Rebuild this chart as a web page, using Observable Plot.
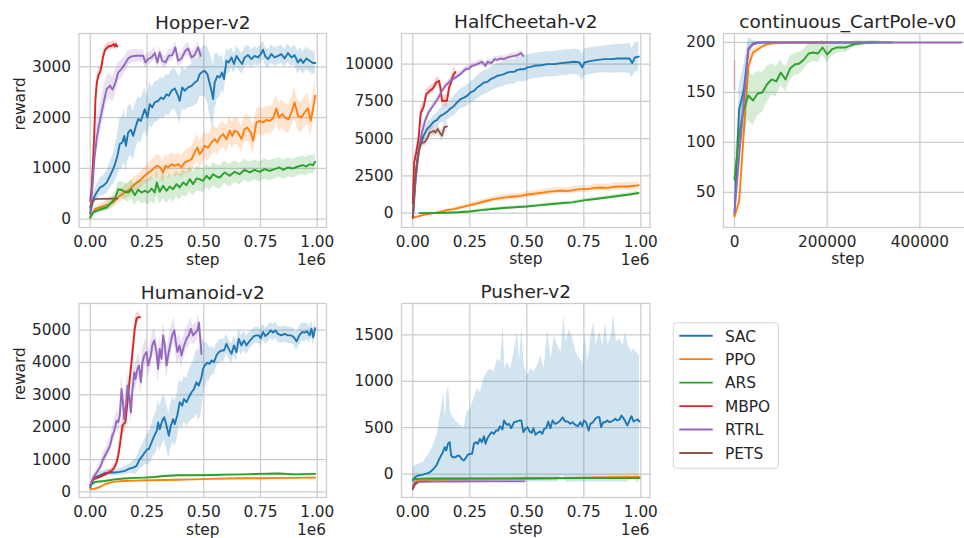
<!DOCTYPE html>
<html><head><meta charset="utf-8">
<script src="https://cdn.jsdelivr.net/npm/d3@7"></script>
<script src="https://cdn.jsdelivr.net/npm/@observablehq/plot@0.6"></script>
<style>
html,body{margin:0;padding:0;background:#fff;}
#fig{position:relative;width:964px;height:538px;overflow:hidden;background:#fff;font-family:"DejaVu Sans",sans-serif;}
#fig svg{position:absolute;}
</style></head><body><div id="fig"></div>
<script>
// ---------- legend / series ----------
const algos = ["SAC","PPO","ARS","MBPO","RTRL","PETS"];
const algoColors = ["#1f77b4","#ff7f0e","#2ca02c","#d62728","#9467bd","#8c564b"];

// ---------- Hopper-v2 (steps in units of 1e6) ----------
const hopperSacStep = [0,.013,.028,.043,.057,.072,.087,.101,.109,.120,.130,.141,.150,.157,.167,.179,.189,.199,.211,.223,.233,.240,.252,.262,.273,.284,.299,.311,.323,.336,.346,.358,.372,.384,.394,.405,.416,.431,.446,.460,.472,.482,.493,.504,.516,.525,.534,.541,.548,.560,.570,.581,.589,.600,.610,.622,.633,.644,.658,.669,.680,.695,.710,.724,.739,.751,.761,.771,.783,.798,.812,.827,.842,.856,.871,.886,.900,.915,.927,.938,.952,.966,.981,.991];
const hopperSacMean = [100,395,525,625,655,720,855,985,1085,1250,1480,1510,1640,1445,1710,1760,1640,1805,1970,1935,2070,2165,2000,2265,2200,2300,2330,2395,2365,2460,2430,2530,2575,2460,2330,2595,2530,2595,2625,2690,2725,2855,2900,2920,2855,2690,2530,2365,2690,2820,2790,2890,2760,3120,3085,3185,3055,3215,3120,3055,3185,3230,3150,3215,3185,3250,3335,3205,3150,3250,3185,3215,3250,3165,3270,3185,3230,3085,3150,3075,3165,3120,3075,3075];
const hopperSacBand = [40,120,150,180,200,220,250,300,350,400,500,500,520,520,520,500,480,460,440,430,420,420,420,420,400,400,400,400,400,400,400,400,400,420,450,420,400,400,420,450,450,450,480,500,550,600,650,650,550,450,400,350,300,250,220,200,200,200,200,200,200,200,180,180,180,180,180,180,180,180,180,180,180,180,180,180,200,220,220,220,220,220,220,220];
const hopperPpoStep = [0,.021,.042,.064,.086,.108,.130,.152,.174,.196,.218,.240,.258,.277,.292,.306,.321,.331,.343,.358,.372,.387,.402,.416,.431,.446,.460,.472,.482,.493,.504,.519,.534,.548,.560,.570,.585,.600,.614,.626,.636,.651,.666,.680,.692,.707,.717,.732,.746,.761,.776,.790,.805,.820,.831,.845,.859,.874,.889,.900,.915,.930,.944,.959,.971,.981,.991];
const hopperPpoMean = [30,200,230,260,295,360,460,525,590,690,755,855,920,985,1050,1035,920,1050,1020,1085,1050,1085,1020,1115,1150,1180,1315,1410,1280,1345,1445,1410,1510,1575,1510,1610,1675,1575,1740,1640,1740,1710,1575,1775,1805,1710,1545,1905,1935,1905,1955,1935,1985,2180,2000,2070,2000,1970,2135,2300,2035,2000,2100,2180,1935,2165,2430];
const hopperPpoBand = [20,60,80,90,100,110,120,130,140,150,160,170,180,200,220,220,220,220,220,220,220,220,220,230,240,250,260,260,260,260,260,260,260,260,260,260,260,260,260,260,260,260,260,260,260,270,270,270,270,270,270,270,270,280,280,280,280,280,290,300,300,300,300,300,300,300,300];
const hopperArsStep = [0,.013,.028,.050,.072,.094,.111,.123,.138,.152,.167,.182,.196,.211,.226,.240,.255,.270,.284,.293,.306,.321,.336,.350,.365,.380,.394,.409,.424,.438,.453,.468,.482,.497,.512,.526,.541,.556,.570,.592,.614,.636,.658,.680,.702,.724,.746,.768,.790,.812,.834,.849,.871,.893,.915,.937,.952,.966,.981,.991];
const hopperArsMean = [30,130,165,200,230,330,425,590,578,540,525,590,473,578,525,558,525,604,525,722,540,657,558,643,590,690,624,722,670,788,690,800,788,755,855,788,886,840,820,920,855,932,886,972,920,972,932,985,952,985,1018,972,1018,998,1037,1064,1037,1083,1064,1129];
const hopperArsBand = [10,30,50,60,80,100,120,150,160,170,180,190,200,210,220,230,240,250,250,250,250,250,250,250,250,250,250,250,250,250,240,240,240,240,230,230,230,230,230,220,220,220,210,210,200,200,200,200,200,200,190,190,190,180,180,180,180,180,180,180];
const hopperMbpoStep = [0,.006,.012,.018,.023,.029,.038,.044,.050,.056,.065,.079,.094,.103,.109,.113,.119];
const hopperMbpoMean = [360,590,1115,1710,2360,2690,2860,2900,3020,3185,3335,3400,3414,3447,3400,3447,3400];
const hopperMbpoBand = [60,100,150,200,200,150,120,100,100,100,80,80,80,80,80,80,80];
const hopperRtrlStep = [0,.009,.018,.028,.038,.050,.062,.072,.087,.098,.111,.123,.138,.152,.167,.182,.199,.217,.233,.243,.255,.270,.284,.296,.306,.317,.331,.346,.361,.375,.387,.402,.419,.431,.446,.460,.475,.487];
const hopperRtrlMean = [150,590,1180,1575,1840,2100,2360,2560,2630,2550,2690,2890,2955,3050,3165,3205,3217,3217,3217,3086,3152,3185,3270,3086,3283,3119,3086,3217,3230,3381,3119,3165,3316,3362,3185,3230,3381,3217];
const hopperRtrlBand = [50,150,250,300,300,300,280,250,250,250,250,200,180,160,150,130,120,120,120,120,120,120,120,120,120,120,120,120,120,120,120,120,120,120,120,120,120,120];
const hopperPetsStep = [0,.01,.02,.04,.06,.08,.10,.12];
const hopperPetsMean = [240,340,395,400,400,402,405,405];
const hopperPetsBand = [20,20,15,10,10,10,10,10];

// ---------- HalfCheetah-v2 ----------
const cheetahSacStep = [0,.006,.012,.018,.025,.032,.047,.062,.076,.091,.106,.121,.135,.150,.165,.179,.194,.209,.224,.238,.253,.268,.282,.297,.312,.326,.341,.356,.371,.385,.400,.415,.429,.444,.459,.474,.488,.503,.518,.532,.562,.591,.621,.650,.679,.709,.731,.743,.753,.782,.812,.841,.871,.900,.929,.951,.962,.974,.991];
const cheetahSacMean = [-300,940,2280,3400,4180,4520,5190,5640,5860,6130,6260,6530,6640,6800,7020,7160,7430,7650,7760,7870,8100,8210,8430,8590,8770,8810,8990,9100,9220,9260,9330,9440,9480,9480,9620,9660,9660,9780,9820,9890,9930,10000,10000,10070,10110,10160,10110,9780,10110,10220,10290,10340,10340,10380,10380,10380,10070,10450,10510];
const cheetahSacBand = [30,200,300,350,380,400,400,400,400,420,450,500,550,600,620,640,650,660,680,700,720,740,760,780,800,800,800,820,820,820,820,820,820,820,820,820,850,850,850,850,850,850,850,850,850,850,850,900,900,900,900,900,950,950,950,1000,1000,1000,1000];
const cheetahPpoStep = [0,.032,.062,.091,.121,.150,.179,.209,.238,.268,.297,.326,.356,.385,.415,.444,.474,.503,.532,.562,.591,.621,.650,.679,.709,.738,.768,.797,.826,.856,.885,.915,.944,.974,.991];
const cheetahPpoMean = [-310,-180,-70,0,90,200,270,380,490,600,715,830,940,1005,1075,1120,1160,1250,1300,1365,1430,1475,1520,1475,1565,1610,1610,1700,1720,1700,1770,1790,1790,1835,1880];
const cheetahPpoBand = [20,30,40,50,60,80,100,120,140,150,160,170,180,190,200,200,200,200,200,210,210,210,220,220,220,230,230,230,240,240,250,250,250,260,260];
const cheetahArsStep = [.03,.1,.15,.2,.25,.3,.35,.4,.45,.5,.55,.6,.65,.7,.75,.8,.85,.9,.95,.99];
const cheetahArsMean = [0,10,30,60,110,200,280,350,400,445,520,600,660,720,860,950,1050,1150,1250,1350];
const cheetahArsBand = [20,30,50,60,80,90,100,100,100,100,100,100,100,100,100,110,110,120,120,130];
const cheetahMbpoStep = [0,.006,.015,.025,.035,.047,.059,.074,.088,.103,.115,.121,.128,.140,.150,.159,.168,.176,.187];
const cheetahMbpoMean = [650,3400,4070,4970,6760,7090,7990,8210,8370,8770,8880,8430,7540,7540,7540,8430,8770,9220,9480];
const cheetahMbpoBand = [100,400,400,400,400,350,300,300,300,300,300,400,400,400,400,400,400,400,400];
const cheetahRtrlStep = [0,.010,.021,.029,.040,.054,.069,.084,.099,.113,.128,.143,.165,.187,.209,.231,.246,.260,.282,.304,.319,.329,.344,.359,.371,.385,.400,.415,.429,.444,.459,.474,.485];
const cheetahRtrlMean = [-300,1830,3400,4520,5410,6200,6760,7090,7430,7760,8210,8550,8880,9100,9330,9660,9710,9890,10000,10160,9890,10160,10070,10340,10290,10380,10340,10450,10510,10560,10600,10740,10560];
const cheetahRtrlBand = [30,300,300,300,250,220,200,200,200,200,200,200,200,200,200,200,200,200,200,200,200,200,200,200,200,200,200,200,200,200,200,200,200];
const cheetahPetsStep = [0,.010,.021,.032,.040,.050,.062,.074,.084,.091,.099,.109,.118,.128,.138,.150];
const cheetahPetsMean = [-300,2280,3620,4520,4740,4740,4970,5410,5460,5530,5410,5640,5410,5190,5750,5820];
const cheetahPetsBand = [30,300,300,300,300,300,300,300,300,300,300,300,300,350,350,350];

// ---------- continuous_CartPole-v0 (steps) ----------
const cartSacStep = [0,10000,20000,30000,40000,50000,100000,200000,300000];
const cartSacMean = [27,133,152,193,199,200,200,200,200];
const cartSacBand = [3,25,25,12,3,1,0,0,0];
const cartPpoStep = [0,10000,20000,30000,40000,50000,60000,70000,80000,100000,150000,200000];
const cartPpoMean = [26,41,109,176,190,193,196,198,199,199.7,200,200];
const cartPpoBand = [2,5,10,8,4,3,2,1,1,0.5,0,0];
const cartArsStep = [0,10000,20000,30000,40000,50000,60000,70000,80000,90000,100000,110000,120000,130000,140000,150000,160000,170000,180000,190000,200000,210000,220000,230000,240000,250000,260000,270000,280000,290000,300000,310000,320000,330000,340000];
const cartArsMean = [63,107,133,147,142,149,150,158,163,161,170,163,174,178,179,183,189,190,189,195,188,193,195,195,195,197,198.5,199,199.5,200,200,200,200,200,200];
const cartArsBand = [15,22,25,25,25,22,20,18,16,15,13,12,12,11,11,10,10,9,9,8,8,7,6,5,5,4,3,3,2,2,2,2,1,1,1];
const cartMbpoStep = [0];
const cartMbpoLow = [152];
const cartMbpoHigh = [182];
const cartRtrlStep = [0,10000,20000,30000,40000,50000,60000,100000,200000,300000,400000,490000];
const cartRtrlMean = [30,86,140,194,198,199.5,200,200,200,200,200,200];
const cartRtrlBand = [3,15,15,5,2,1,0,0,0,0,0,0];

// ---------- Humanoid-v2 (steps in units of 1e6) ----------
const humanSacStep = [0,.013,.028,.043,.065,.087,.108,.130,.152,.174,.189,.204,.218,.230,.240,.251,.258,.270,.282,.293,.299,.306,.317,.326,.336,.346,.355,.365,.372,.383,.394,.405,.413,.424,.434,.446,.457,.468,.478,.490,.497,.504,.516,.526,.534,.545,.556,.566,.578,.589,.600,.610,.622,.633,.644,.654,.666,.677,.688,.698,.710,.721,.732,.742,.751,.761,.771,.783,.795,.805,.815,.827,.842,.856,.871,.886,.897,.909,.921,.933,.944,.956,.966,.974,.982,.991];
const humanSacMean = [135,390,475,515,580,600,600,620,650,725,755,805,1010,1115,1220,1320,1320,1530,1735,1890,2150,1940,2200,2305,2045,1735,2045,2250,2095,2355,2770,2665,2870,2770,2925,3080,3180,3390,3285,3545,3800,3905,3990,3955,4060,4010,4215,4320,4370,4370,4575,4420,4265,4525,4320,4730,4525,4680,4525,4630,4730,4815,4835,4835,4750,4940,4815,4885,4990,4920,4990,4885,4835,4885,4835,4835,4780,4650,4835,4940,4920,4960,4835,5040,4780,5060];
const humanSacBand = [30,80,100,100,100,100,100,100,120,150,200,250,300,350,400,450,500,550,600,650,700,700,700,700,700,700,700,700,700,700,700,700,700,750,800,850,900,1000,1100,1100,900,700,600,500,450,400,350,350,350,350,300,300,300,300,300,300,300,300,280,280,250,250,250,250,250,250,250,250,250,250,250,250,250,250,250,250,250,280,280,280,280,250,250,250,250,250];
const humanPpoStep = [0,.021,.043,.065,.087,.108,.152,.196,.240,.314,.387,.460,.534,.607,.680,.754,.827,.900,.991];
const humanPpoMean = [85,105,155,240,290,320,340,350,360,370,380,390,405,415,425,425,435,435,445];
const humanPpoBand = [15,15,15,15,15,15,15,15,15,15,15,15,15,15,15,15,15,15,15];
const humanArsStep = [0,.021,.065,.108,.152,.196,.240,.284,.328,.387,.460,.534,.607,.680,.754,.827,.900,.991];
const humanArsMean = [205,310,340,390,415,435,445,465,495,515,515,525,535,545,560,570,545,560];
const humanArsBand = [25,25,25,25,25,25,25,25,25,25,25,25,25,25,25,25,25,25];
const humanMbpoStep = [0,.013,.035,.057,.079,.094,.106,.116,.123,.130,.138,.142,.150,.155,.161,.167,.174,.182,.189,.196,.204,.211,.220];
const humanMbpoMean = [205,390,445,515,600,650,755,910,1115,1425,1840,2045,2130,2150,2560,2975,3490,4010,4525,5040,5350,5400,5400];
const humanMbpoBand = [30,50,60,60,80,100,120,150,200,250,300,300,300,300,300,300,300,300,250,250,200,150,100];
const humanRtrlStep = [0,.013,.028,.043,.057,.072,.087,.097,.106,.116,.123,.130,.138,.144,.150,.157,.164,.172,.179,.185,.194,.199,.208,.215,.223,.230,.238,.248,.255,.267,.273,.282,.292,.299,.306,.314,.321,.328,.336,.343,.350,.361,.370,.378,.384,.393,.402,.409,.416,.424,.434,.443,.453,.463,.472,.479,.490];
const humanRtrlMean = [185,445,600,755,1010,1220,1425,1735,1890,2200,2150,2355,3180,2770,2250,2665,3285,2975,2460,3080,3700,3490,3800,3905,3390,4010,4215,4320,3905,4215,4525,4680,4320,3800,4420,4110,4835,4575,3905,4215,4470,4835,4990,4575,4320,4525,4215,4420,4575,4730,4835,5040,4835,4920,4990,5230,4265];
const humanRtrlBand = [30,80,100,150,200,200,250,250,300,300,300,350,400,400,400,400,400,400,400,400,400,400,400,400,400,400,400,400,400,400,400,400,400,500,400,400,400,400,400,400,400,400,400,400,400,400,400,350,350,350,350,350,300,300,300,300,300];

// ---------- Pusher-v2 (steps in units of 1e6) ----------
const pusherSacStep = [0,.010,.025,.040,.054,.069,.079,.091,.103,.113,.124,.132,.140,.147,.154,.162,.168,.176,.187,.197,.206,.213,.224,.232,.241,.250,.260,.268,.276,.285,.294,.303,.312,.319,.326,.337,.346,.356,.365,.374,.382,.393,.400,.412,.422,.432,.444,.456,.466,.476,.485,.494,.503,.512,.521,.529,.538,.547,.559,.568,.576,.585,.594,.603,.613,.624,.635,.647,.657,.668,.679,.691,.701,.712,.724,.734,.743,.750,.760,.771,.779,.790,.800,.809,.818,.826,.835,.844,.853,.862,.871,.879,.888,.897,.907,.915,.924,.932,.941,.950,.959,.968,.976,.985,.994];
const pusherSacMean = [-68,-32,-14,-7,4,14,29,57,93,147,201,237,291,255,327,345,201,183,183,201,194,165,147,172,208,219,219,327,345,327,381,345,409,327,381,424,452,434,470,470,517,481,578,531,542,495,560,567,578,578,452,488,506,460,445,495,424,445,460,434,488,495,567,495,578,542,553,578,614,567,567,542,560,531,517,560,517,578,560,470,542,560,596,614,614,506,560,560,578,560,567,578,596,578,589,632,603,567,524,578,625,567,578,589,567];
const pusherSacBandStep = [0,.010,.047,.084,.106,.118,.128,.135,.143,.150,.157,.165,.179,.194,.209,.224,.238,.253,.268,.282,.297,.312,.326,.341,.356,.371,.385,.396,.404,.415,.429,.444,.459,.468,.478,.488,.503,.518,.532,.547,.562,.576,.591,.606,.621,.635,.650,.662,.672,.687,.701,.716,.731,.746,.756,.768,.782,.794,.804,.819,.834,.846,.856,.871,.881,.893,.907,.922,.932,.944,.959,.969,.981,.994];
const pusherSacBandLow = [-110,-95,-85,-85,-85,-85,-85,-85,-85,-85,-85,-85,-85,-85,-85,-85,-85,-85,-85,-85,-85,-85,-85,-85,-85,-85,-85,-85,-85,-85,-85,-85,-85,-85,-85,-85,-85,-85,-85,-85,-85,-85,-85,-85,-85,-85,-20,-20,-85,-85,-85,-85,-85,-85,-85,-85,-85,-85,-85,-85,-85,-85,-85,-85,-85,-85,-85,-85,-85,-85,-20,-20,-85,-85];
const pusherSacBandHigh = [60,93,129,273,416,596,740,865,614,883,937,668,596,560,524,488,668,704,811,919,883,1027,1099,1134,1099,1242,1206,1601,1134,1206,1134,1314,1529,1206,1565,1170,1063,1134,1099,1170,1278,1134,1565,1242,1493,1386,1314,1709,1422,1565,1458,1314,1242,1206,1529,1206,1493,1637,1386,1529,1386,1637,1386,1493,1727,1422,1458,1386,1529,1386,1314,1350,1314,1278];
const pusherPpoStep = [0,.005,.01,.02,.04,.07,.1,.2,.3,.4,.5,.6,.7,.8,.9,.994];
const pusherPpoMean = [-140,-100,-80,-70,-65,-62,-60,-57,-55,-52,-50,-45,-40,-35,-32,-30];
const pusherPpoBand = [10,10,10,8,8,8,8,8,8,8,8,8,8,8,10,10];
const pusherArsStep = [0,.05,.1,.2,.3,.4,.5,.6,.7,.8,.9,.994];
const pusherArsMean = [-55,-48,-47,-46,-45,-45,-44,-44,-43,-43,-42,-42];
const pusherArsBand = [6,6,6,6,6,6,6,6,6,6,6,6];
const pusherMbpoStep = [0,.005,.01,.015];
const pusherMbpoMean = [-160,-125,-105,-95];
const pusherMbpoBand = [15,10,8,8];
const pusherRtrlStep = [0,.005,.01,.02,.05,.1,.2,.3,.4,.49];
const pusherRtrlMean = [-150,-110,-95,-85,-82,-80,-79,-78,-78,-77];
const pusherRtrlBand = [15,10,8,6,5,5,5,5,5,5];
const pusherPetsStep = [0,.005,.01,.015,.02];
const pusherPetsMean = [-155,-130,-110,-100,-95];
const pusherPetsBand = [15,12,10,8,8];

// ---------- tick labels ----------
const millionTicks = [0,0.25,0.5,0.75,1];
const cartTicks = [0,200000,400000];
const hopperYTicks = [0,1000,2000,3000];
const cheetahYTicks = [0,2500,5000,7500,10000];
const cartYTicks = [50,100,150,200];
const humanYTicks = [0,1000,2000,3000,4000,5000];
const pusherYTicks = [0,500,1000,1500];

// ---------- helpers ----------
function check(name, a, b) { if (a.length !== b.length) throw new Error(name + " length mismatch " + a.length + " vs " + b.length); }
function S(name, algo, step, mean, band) {
  check(name + " mean", step, mean); check(name + " band", step, band);
  const rows = step.map((s, i) => ({step: s, mean: mean[i], lo: mean[i] - band[i], hi: mean[i] + band[i]}));
  return {algo, line: rows, band: rows};
}
function S2(name, algo, step, mean, bStep, bLo, bHi) {
  check(name + " mean", step, mean); check(name + " lo", bStep, bLo); check(name + " hi", bStep, bHi);
  return {algo, line: step.map((s, i) => ({step: s, mean: mean[i]})), band: bStep.map((s, i) => ({step: s, lo: bLo[i], hi: bHi[i]}))};
}

const FONT = "DejaVu Sans";
const TXT = "#262626";
const GRID = "#cccccc";
const fmt2 = d3.format(".2f");

const panels = [
  {title: "Hopper-v2", fl: 78.5, fr: 326, ft: 33, fb: 227, ml: 78.5, xDomain: [-0.0496, 1.0406], xTicks: millionTicks, xFmt: fmt2,
   yDomain: [-164, 3656], yTicks: hopperYTicks, ylab: true, off: "1e6",
   series: [S("hSAC","SAC",hopperSacStep,hopperSacMean,hopperSacBand), S("hPPO","PPO",hopperPpoStep,hopperPpoMean,hopperPpoBand),
            S("hARS","ARS",hopperArsStep,hopperArsMean,hopperArsBand), S("hMBPO","MBPO",hopperMbpoStep,hopperMbpoMean,hopperMbpoBand),
            S("hRTRL","RTRL",hopperRtrlStep,hopperRtrlMean,hopperRtrlBand), S("hPETS","PETS",hopperPetsStep,hopperPetsMean,hopperPetsBand)]},
  {title: "HalfCheetah-v2", fl: 400.7, fr: 649.3, ft: 33, fb: 227, ml: 72, xDomain: [-0.0496, 1.0406], xTicks: millionTicks, xFmt: fmt2,
   yDomain: [-962, 12058], yTicks: cheetahYTicks, ylab: false, off: "1e6",
   series: [S("cSAC","SAC",cheetahSacStep,cheetahSacMean,cheetahSacBand), S("cPPO","PPO",cheetahPpoStep,cheetahPpoMean,cheetahPpoBand),
            S("cARS","ARS",cheetahArsStep,cheetahArsMean,cheetahArsBand), S("cMBPO","MBPO",cheetahMbpoStep,cheetahMbpoMean,cheetahMbpoBand),
            S("cRTRL","RTRL",cheetahRtrlStep,cheetahRtrlMean,cheetahRtrlBand), S("cPETS","PETS",cheetahPetsStep,cheetahPetsMean,cheetahPetsBand)]},
  {title: "continuous_CartPole-v0", fl: 723, fr: 971.6, ft: 33, fb: 227, ml: 66, xDomain: [-23700, 512600], xTicks: cartTicks, xFmt: d => String(d),
   yDomain: [15, 209], yTicks: cartYTicks, ylab: false, off: null,
   series: [S("kSAC","SAC",cartSacStep,cartSacMean,cartSacBand), S("kPPO","PPO",cartPpoStep,cartPpoMean,cartPpoBand),
            S("kARS","ARS",cartArsStep,cartArsMean,cartArsBand), S("kRTRL","RTRL",cartRtrlStep,cartRtrlMean,cartRtrlBand)],
   extra: () => [Plot.ruleX(cartMbpoStep.map((s, i) => ({step: s, lo: cartMbpoLow[i], hi: cartMbpoHigh[i]})), {x: "step", y1: "lo", y2: "hi", stroke: algoColors[3], strokeOpacity: 0.25, strokeWidth: 1.5, clip: true})]},
  {title: "Humanoid-v2", fl: 78.5, fr: 326, ft: 303.3, fb: 497.3, ml: 78.5, xDomain: [-0.0496, 1.0406], xTicks: millionTicks, xFmt: fmt2,
   yDomain: [-170, 5820], yTicks: humanYTicks, ylab: true, off: "1e6",
   series: [S("uSAC","SAC",humanSacStep,humanSacMean,humanSacBand), S("uPPO","PPO",humanPpoStep,humanPpoMean,humanPpoBand),
            S("uARS","ARS",humanArsStep,humanArsMean,humanArsBand), S("uMBPO","MBPO",humanMbpoStep,humanMbpoMean,humanMbpoBand),
            S("uRTRL","RTRL",humanRtrlStep,humanRtrlMean,humanRtrlBand)]},
  {title: "Pusher-v2", fl: 400.7, fr: 649.3, ft: 303.3, fb: 497.3, ml: 72, xDomain: [-0.0496, 1.0406], xTicks: millionTicks, xFmt: fmt2,
   yDomain: [-251, 1838], yTicks: pusherYTicks, ylab: false, off: "1e6",
   series: [S2("pSAC","SAC",pusherSacStep,pusherSacMean,pusherSacBandStep,pusherSacBandLow,pusherSacBandHigh),
            S("pPPO","PPO",pusherPpoStep,pusherPpoMean,pusherPpoBand), S("pARS","ARS",pusherArsStep,pusherArsMean,pusherArsBand),
            S("pMBPO","MBPO",pusherMbpoStep,pusherMbpoMean,pusherMbpoBand), S("pRTRL","RTRL",pusherRtrlStep,pusherRtrlMean,pusherRtrlBand),
            S("pPETS","PETS",pusherPetsStep,pusherPetsMean,pusherPetsBand)]}
];

const fig = document.getElementById("fig");

function makePanel(p) {
  const mt = 33, mb = 42, mr = 6;
  const fw = p.fr - p.fl, fh = p.fb - p.ft;
  const W = p.ml + fw + mr, H = mt + fh + mb;
  const marks = [
    Plot.gridX(p.xTicks, {stroke: GRID, strokeOpacity: 1, strokeWidth: 1.25}),
    Plot.gridY(p.yTicks, {stroke: GRID, strokeOpacity: 1, strokeWidth: 1.25})
  ];
  for (const s of p.series) {
    const color = algoColors[algos.indexOf(s.algo)];
    marks.push(Plot.areaY(s.band, {x: "step", y1: "lo", y2: "hi", fill: color, fillOpacity: 0.2, clip: true}));
    marks.push(Plot.lineY(s.line, {x: "step", y: "mean", stroke: color, strokeWidth: 1.9, clip: true}));
  }
  if (p.extra) marks.push(...p.extra());
  marks.push(Plot.frame({stroke: GRID, strokeWidth: 1.25}));
  marks.push(Plot.axisX(p.xTicks, {tickSize: 0, tickPadding: 9, tickFormat: p.xFmt, fontSize: 15.3, color: TXT, label: null}));
  marks.push(Plot.axisY(p.yTicks, {tickSize: 0, tickPadding: 8, tickFormat: d => String(d), fontSize: 15.3, color: TXT, label: null}));
  marks.push(Plot.text([p.title], {text: d => d, frameAnchor: "top", lineAnchor: "bottom", dy: -5, fontSize: 18.5, fill: TXT}));
  marks.push(Plot.text(["step"], {text: d => d, frameAnchor: "bottom", lineAnchor: "bottom", dy: 37, fontSize: 15.4, fill: TXT}));
  if (p.off) marks.push(Plot.text([p.off], {text: d => d, frameAnchor: "bottom-right", textAnchor: "end", lineAnchor: "bottom", dx: -0.5, dy: 37.5, fontSize: 15.3, fill: TXT}));
  if (p.ylab) marks.push(Plot.text(["reward"], {text: d => d, frameAnchor: "left", rotate: -90, lineAnchor: "bottom", dx: -54.5, fontSize: 15.4, fill: TXT}));
  const svg = Plot.plot({
    width: W, height: H, marginLeft: p.ml, marginRight: mr, marginTop: mt, marginBottom: mb,
    x: {domain: p.xDomain, label: null}, y: {domain: p.yDomain, label: null},
    style: {fontFamily: FONT, color: TXT, background: "transparent", overflow: "visible"},
    marks
  });
  svg.style.left = (p.fl - p.ml) + "px";
  svg.style.top = (p.ft - mt) + "px";
  fig.appendChild(svg);
}
panels.forEach(makePanel);

// ---------- legend ----------
const leg = d3.select(fig).append("svg").attr("width", 112).attr("height", 152)
  .style("left", "672px").style("top", "321px").style("overflow", "visible");
leg.append("rect").attr("x", 1.3).attr("y", 1.7).attr("width", 105).attr("height", 145.6).attr("rx", 3)
  .attr("fill", "white").attr("fill-opacity", 0.8).attr("stroke", "#d5d5d5").attr("stroke-width", 1);
algos.forEach((a, i) => {
  const y = 14.7 + i * 23.46;
  leg.append("line").attr("x1", 7.3).attr("x2", 40.7).attr("y1", y).attr("y2", y)
    .attr("stroke", algoColors[i]).attr("stroke-width", 1.9);
  leg.append("text").attr("x", 53).attr("y", y + 5.8).text(a)
    .attr("font-family", FONT).attr("font-size", 15.4).attr("fill", TXT);
});
</script></body></html>
